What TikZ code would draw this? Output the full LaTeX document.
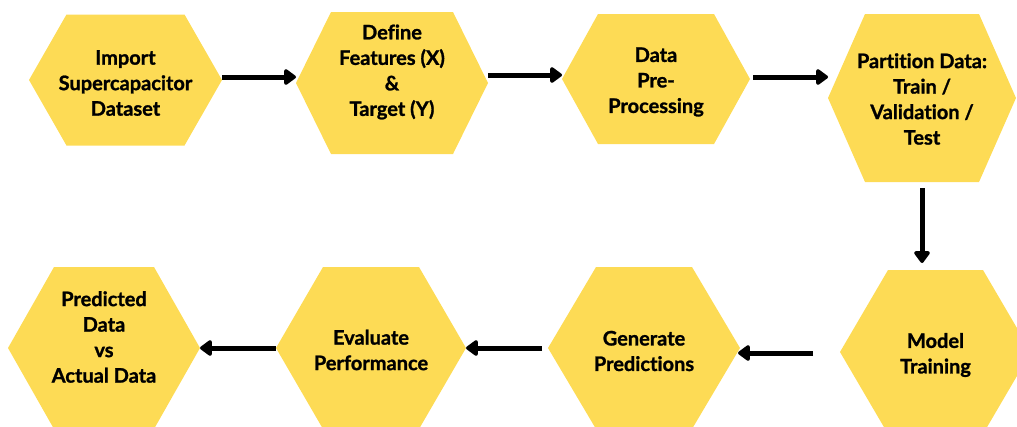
\documentclass[tikz,border=0pt]{standalone}
\usepackage{fontspec}
\setmainfont[Ligatures={NoCommon},BoldFeatures={FakeBold=1.2}]{Lato}
\usetikzlibrary{arrows.meta}
\definecolor{hexyellow}{HTML}{FDDB55}
\tikzset{
  hexfill/.style={fill=hexyellow},
  hexanchor/.style={inner sep=0pt, outer sep=0pt, draw=none},
  hextext/.style={align=center, inner sep=0pt, font=\bfseries\fontsize{20}{25.5}\selectfont},
  arr/.style={line width=5pt, -{Triangle[length=13pt,width=18pt,round]}, black}
}
% name, cx, cy, half width, half height, top half width, text y, text
\newcommand\hexnode[8]{%
  \fill[hexfill] (#2-#4,#3) -- (#2-#6,#3-#5) -- (#2+#6,#3-#5) -- (#2+#4,#3)
     -- (#2+#6,#3+#5) -- (#2-#6,#3+#5) -- cycle;
  \node[hexanchor, minimum width=2*#4pt, minimum height=2*#5pt] (#1) at (#2,#3) {};
  \node[hextext] (#1t) at (#2,#7) {#8};
}
\begin{document}
\begin{tikzpicture}[x=1pt,y=-1pt]
\useasboundingbox (0,0) rectangle (1017,426);
\clip (0,0) rectangle (1017,426);
\hexnode{h1}{125.5}{80}{96.5}{65.5}{59}{83}{Import\\Supercapacitor\\Dataset}
\hexnode{h2}{392}{83}{96}{71}{61}{72}{Define\\Features (X)\\\&\\Target (Y)}
\hexnode{h3}{656}{79}{94}{65}{58}{82}{Data\\Pre-\\Processing}
\hexnode{h4}{922}{98}{94}{84}{57}{99}{Partition Data:\\Train /\\Validation /\\Test}
\hexnode{h5}{935.5}{352}{95.5}{82}{47.5}{355}{Model\\Training}
\hexnode{h6}{644}{348}{96}{81}{48}{351}{Generate\\Predictions}
\hexnode{h7}{371}{348}{95}{81}{48}{350}{Evaluate\\Performance}
\hexnode{h8}{104}{348}{96}{81}{50}{337}{Predicted\\Data\\vs\\Actual Data}
\draw[arr] ([yshift=3pt]h1.east) -- ([yshift=6pt]h2.west);
\draw[arr] ([yshift=8pt]h2.east) -- ([yshift=4pt]h3.west);
\draw[arr] ([xshift=3pt,yshift=2pt]h3.east) -- ([yshift=21pt]h4.west);
\draw[arr] ([yshift=-6pt]h4.south) -- ([xshift=-13.5pt,yshift=7pt]h5.north);
\draw[arr] ([xshift=-27pt,yshift=-1pt]h5.west) -- ([xshift=-2pt,yshift=-5pt]h6.east);
\draw[arr] ([xshift=-6pt]h6.west) -- (h7.east);
\draw[arr] (h7.west) -- (h8.east);
\end{tikzpicture}
\end{document}
